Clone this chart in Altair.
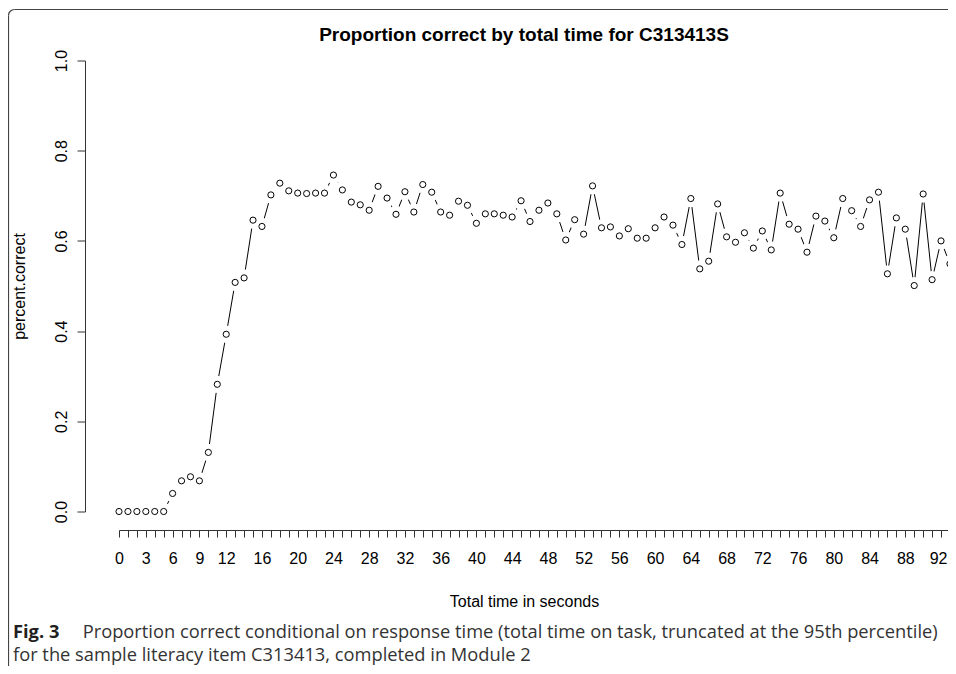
import altair as alt
import pandas as pd

# ---- data ----
time_s = list(range(0, 95))
pct_correct = [
    0, 0, 0, 0, 0, 0, 0.040, 0.068, 0.077, 0.068, 0.131, 0.282, 0.393, 0.508, 0.518, 0.646, 0.632, 0.702, 0.728, 0.711,
    0.706, 0.705, 0.706, 0.706, 0.746, 0.713, 0.686, 0.680, 0.668, 0.721, 0.695, 0.659, 0.709, 0.664, 0.725, 0.708, 0.664, 0.657, 0.688, 0.679,
    0.639, 0.660, 0.660, 0.657, 0.653, 0.689, 0.643, 0.668, 0.684, 0.660, 0.602, 0.647, 0.615, 0.722, 0.629, 0.631, 0.611, 0.627, 0.606, 0.606,
    0.629, 0.653, 0.635, 0.592, 0.694, 0.538, 0.555, 0.682, 0.609, 0.597, 0.618, 0.584, 0.622, 0.580, 0.706, 0.637, 0.626, 0.575, 0.655, 0.644,
    0.607, 0.694, 0.667, 0.632, 0.691, 0.708, 0.527, 0.651, 0.626, 0.501, 0.704, 0.514, 0.600, 0.549, 0.513,
]
x_tick_values = list(range(0, 94))
x_label_values = [0, 3, 6, 9, 12] + list(range(16, 93, 4))
y_tick_values = [0, 0.2, 0.4, 0.6, 0.8, 1.0]

title_text = "Proportion correct by total time for C313413S"
x_title = "Total time in seconds"
y_title = "percent.correct"
cap_bold = "Fig. 3"
cap_line1 = "Proportion correct conditional on response time (total time on task, truncated at the 95th percentile)"
cap_line2 = "for the sample literacy item C313413, completed in Module 2"

df = pd.DataFrame({"t": time_s, "p": pct_correct})

PX_PER_SEC = 8.935
W, H = 829, 451
FONT = "Liberation Sans"
CAP_FONT = "Open Sans"
CAP_SIZE = 18.3

xs = alt.Scale(domain=[0, W / PX_PER_SEC], nice=False, zero=False)
ys = alt.Scale(domain=[0, 1], nice=False)

label_list = ",".join(str(v) for v in x_label_values)
last_label = x_label_values[-1]
x_axis = alt.Axis(
    values=x_tick_values, tickCount=500, format="d",
    labelExpr=f"indexof([{label_list}], datum.value) >= 0 ? datum.label : ''",
    labelOffset=alt.condition(f"datum.value == {last_label}", alt.value(-3), alt.value(0)),
    labelOverlap=False, labelFlush=False, labelFont=FONT, labelFontSize=16, labelColor="black",
    labelPadding=26, labelBaseline="alphabetic",
    tickSize=7, tickColor="#333", domainColor="#333", tickWidth=1, domainWidth=1,
    offset=18.5, grid=False,
    title=x_title, titleFont=FONT, titleFontSize=16, titleFontWeight="normal", titleColor="black",
    titleX=405, titleY=76, titleBaseline="alphabetic", titleAlign="center",
)
y_axis = alt.Axis(
    values=y_tick_values, tickCount=50, format=".1f",
    labelAngle=270, labelAlign="center", labelBaseline="alphabetic", labelPadding=11,
    labelFont=FONT, labelFontSize=16, labelColor="black",
    tickSize=8, tickColor="#333", domainColor="#333", tickWidth=1, domainWidth=1,
    offset=34, grid=False,
    title=y_title, titleFont=FONT, titleFontSize=16, titleFontWeight="normal", titleColor="black",
    titleAngle=270, titleX=-61, titleY=225.5, titleBaseline="alphabetic", titleAlign="center",
)

base = alt.Chart(df)
line = base.mark_line(color="black", strokeWidth=1).encode(
    x=alt.X("t:Q", scale=xs, axis=x_axis),
    y=alt.Y("p:Q", scale=ys, axis=y_axis),
)
halo = base.mark_point(shape="circle", filled=True, color="white", opacity=1, size=300).encode(
    x=alt.X("t:Q", scale=xs), y=alt.Y("p:Q", scale=ys)
)
pts = base.mark_point(shape="circle", filled=False, color="black", strokeWidth=1, size=38, opacity=1).encode(
    x=alt.X("t:Q", scale=xs), y=alt.Y("p:Q", scale=ys)
)

one = pd.DataFrame({"a": [0]})
frame_top = alt.Chart(one).mark_rule(color="#444", strokeWidth=1.2).encode(
    x=alt.value(-104.5), x2=alt.value(W), y=alt.value(-51)
)
frame_left = alt.Chart(one).mark_rule(color="#444", strokeWidth=1.2).encode(
    x=alt.value(-110.5), y=alt.value(-45), y2=alt.value(H + 200)
)
frame_corner = alt.Chart(one).mark_arc(
    stroke="#444", strokeWidth=1.2, fill=None, theta=4.712389, theta2=6.283185,
    innerRadius=6, outerRadius=6
).encode(x=alt.value(-104.5), y=alt.value(-45))

title = alt.Chart(pd.DataFrame({"text": [title_text]})).mark_text(
    font=FONT, fontSize=19, fontWeight="bold", color="black", align="center", baseline="alphabetic"
).encode(text="text:N", x=alt.value(405), y=alt.value(-19.5))

cap_b = alt.Chart(pd.DataFrame({"text": [cap_bold]})).mark_text(
    font=CAP_FONT, fontSize=CAP_SIZE, fontWeight="bold", color="#231f20", align="left", baseline="alphabetic"
).encode(text="text:N", x=alt.value(-106), y=alt.value(577))
cap_1 = alt.Chart(pd.DataFrame({"text": [cap_line1]})).mark_text(
    font=CAP_FONT, fontSize=CAP_SIZE, color="#333", align="left", baseline="alphabetic"
).encode(text="text:N", x=alt.value(-36.3), y=alt.value(577))
cap_2 = alt.Chart(pd.DataFrame({"text": [cap_line2]})).mark_text(
    font=CAP_FONT, fontSize=CAP_SIZE, color="#333", align="left", baseline="alphabetic"
).encode(text="text:N", x=alt.value(-106), y=alt.value(600))

chart = alt.layer(
    frame_top, frame_left, frame_corner, line, halo, pts, title, cap_b, cap_1, cap_2
).properties(
    width=W, height=H,
    background="white",
    autosize=alt.AutoSizeParams(type="none"),
    padding={"left": 111, "top": 52.5, "right": 0, "bottom": 154},
).configure_view(strokeWidth=0, stroke=None)

chart.save("out.html", embed_options={"renderer": "svg", "actions": False})
